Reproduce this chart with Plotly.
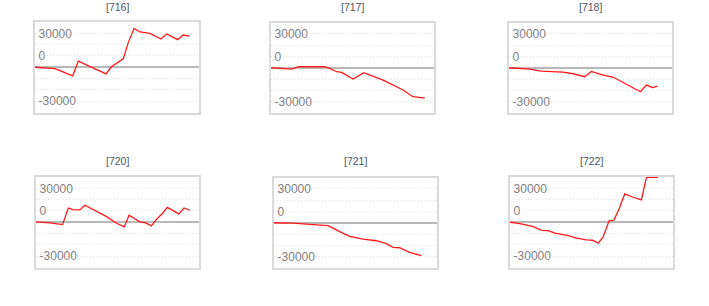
import plotly.graph_objects as go

# ---- data -------------------------------------------------------------
PANEL_TITLES = ["[716]", "[717]", "[718]", "[720]", "[721]", "[722]"]

DAYS_716 = [0, 12.2, 23, 26.4, 43.3, 46.3, 53.9, 56.9, 60.4, 64, 70.1, 76.8, 80.3, 87, 90.4, 94.1]
VALS_716 = [0, -1200, -7600, 5300, -5900, 0, 7600, 22000, 34400, 31200, 30000, 25000, 29400, 24400, 28500, 27600]

DAYS_717 = [0, 12.7, 16.7, 33, 36.1, 40.2, 43.3, 50.4, 56.9, 62.7, 68.8, 81, 87.1, 94.3]
VALS_717 = [0, -1200, 900, 900, -600, -3500, -4100, -10000, -4400, -7600, -10900, -19700, -25600, -26800]

DAYS_718 = [0, 12.7, 19.8, 33.1, 39.3, 46.4, 50.5, 57.7, 63.8, 72, 80.6, 84.3, 88, 91]
VALS_718 = [0, -1200, -2900, -3800, -5300, -7900, -3200, -6500, -8200, -14700, -21200, -15300, -17600, -16200]

DAYS_720 = [0, 8.6, 16.3, 19.8, 22.4, 26.9, 30, 37.1, 43.3, 49.4, 54.1, 57.1, 63.7, 67.3,
            70.8, 73.9, 76.9, 80.6, 84.1, 87.6, 90.8, 94.3]
VALS_720 = [300, -600, -2100, 12600, 11200, 10900, 15000, 9700, 5000, -900, -4100, 6200, 300, -600,
            -3200, 2600, 6800, 13200, 10000, 7400, 12600, 10600]

DAYS_721 = [0, 11.7, 21.9, 33.1, 40.3, 46.4, 54.6, 62.8, 68.9, 73, 77.1, 83.2, 90.4]
VALS_721 = [0, -300, -1500, -2600, -7900, -12100, -14400, -15900, -18500, -21800, -22100, -26200, -29100]

DAYS_722 = [0, 6.1, 14.3, 19.4, 23.5, 27.6, 35.7, 40.8, 46.9, 50.6, 54.1, 57.1, 60.8, 63.7,
            66.9, 70.4, 75.5, 80.6, 83.7, 90.8]
VALS_722 = [0, -1200, -3800, -7100, -7400, -9700, -11800, -14100, -15600, -15900, -18500, -13200,
            1200, 1800, 11800, 25000, 22100, 19700, 39600, 39600]

SERIES = [(DAYS_716, VALS_716), (DAYS_717, VALS_717), (DAYS_718, VALS_718),
          (DAYS_720, VALS_720), (DAYS_721, VALS_721), (DAYS_722, VALS_722)]

TICK_TEXT = ["30000", "0", "-30000"]
TICK_VALS = [30000, 10000, -30000]

# ---- layout -------------------------------------------------------------
W, H = 709, 306
FRAMES = [  # left, right, top, bottom in px
    (35, 199, 22, 112.5), (271, 434, 22.5, 113), (509, 672, 22.5, 113),
    (36, 199, 177, 267.5), (274, 437, 177.5, 268), (510, 673, 177, 267.5),
]
TITLE_Y = [7, 7, 7, 161, 161, 161]
GRID = "#e2e2e2"

fig = go.Figure()
layout = dict(width=W, height=H, margin=dict(l=0, r=0, t=0, b=0),
              paper_bgcolor="white", plot_bgcolor="white", showlegend=False,
              annotations=[])

for i, ((days, vals), (l, r, t, b)) in enumerate(zip(SERIES, FRAMES)):
    n = "" if i == 0 else str(i + 1)
    fig.add_trace(go.Scatter(x=days, y=vals, mode="lines",
                             line=dict(color="#ff1a1a", width=1.3),
                             xaxis="x" + n, yaxis="y" + n, hoverinfo="skip"))
    layout["xaxis" + n] = dict(domain=[l / W, r / W], range=[0, 100], showgrid=False,
                               zeroline=False, showticklabels=False, ticks="",
                               showline=True, mirror=True, linecolor="#dadada", linewidth=2,
                               anchor="y" + n, fixedrange=True)
    layout["yaxis" + n] = dict(domain=[1 - b / H, 1 - t / H], range=[-40000, 40000],
                               tickvals=TICK_VALS, ticktext=TICK_TEXT,
                               ticklabelposition="inside", ticks="", ticklabelstandoff=3,
                               tickfont=dict(family="Liberation Sans, Arial", size=12, color="#808080"),
                               showgrid=True, gridcolor=GRID, griddash="1px,2px", gridwidth=1,
                               minor=dict(dtick=10000, showgrid=True, gridcolor=GRID,
                                          griddash="1px,2px", gridwidth=1),
                               zeroline=True, zerolinecolor="#b8b8b8", zerolinewidth=2,
                               showline=True, mirror=True, linecolor="#dadada", linewidth=2,
                               anchor="x" + n, fixedrange=True)
    layout["annotations"].append(dict(
        text=PANEL_TITLES[i], x=(l + r) / 2 / W, y=1 - TITLE_Y[i] / H,
        xref="paper", yref="paper", showarrow=False, xanchor="center", yanchor="middle",
        font=dict(family="Liberation Sans, Arial", size=10.5, color="#4a5566")))

fig.update_layout(**layout)
fig.write_html("out.html")
